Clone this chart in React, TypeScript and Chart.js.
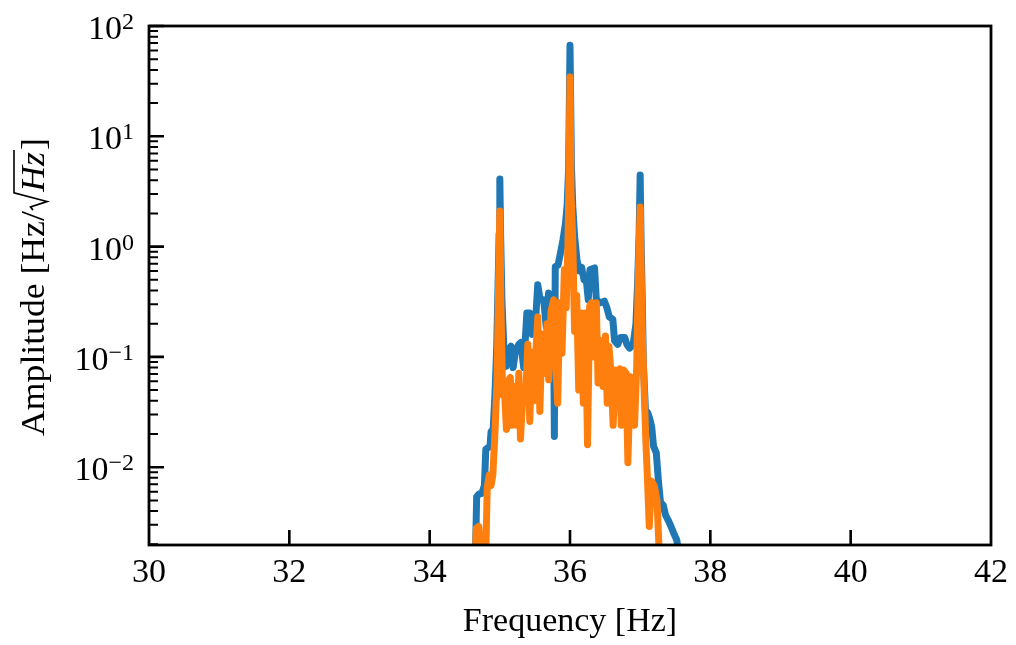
import { useEffect, useRef } from 'react';
import { Chart, registerables } from 'chart.js';

Chart.register(...registerables);

const SERIF = '"Liberation Serif", "Times New Roman", Times, serif';

// Blue series (vertices)
const blueFreq = [
  34.55, 34.62, 34.655, 34.67, 34.70, 34.745, 34.78, 34.80, 34.83, 34.86,
  34.875, 34.905, 34.93, 34.955, 34.975, 34.99, 35.00, 35.012, 35.03, 35.055,
  35.09, 35.125, 35.16, 35.19, 35.22, 35.27, 35.30, 35.34, 35.385, 35.425,
  35.46, 35.505, 35.54, 35.575, 35.625, 35.66, 35.695, 35.73, 35.765, 35.777,
  35.79, 35.83, 35.865, 35.90, 35.935, 35.96, 35.98, 36.00, 36.02, 36.04,
  36.065, 36.10, 36.135, 36.165, 36.20, 36.235, 36.26, 36.285, 36.35, 36.375,
  36.43, 36.49, 36.525, 36.56, 36.61, 36.635, 36.68, 36.72, 36.78, 36.81,
  36.85, 36.90, 36.94, 36.965, 36.985, 37.00, 37.012, 37.03, 37.045, 37.075,
  37.11, 37.14, 37.165, 37.19, 37.23, 37.26, 37.29, 37.33, 37.36, 37.40,
  37.44, 37.48, 37.52, 37.55, 37.62,
];
const blueAmp = [
  0.0010, 0.0015, 0.0019, 0.0054, 0.0057, 0.0058, 0.0068, 0.0145, 0.0150, 0.0155,
  0.021, 0.022, 0.045, 0.12, 0.45, 1.3, 4.1, 1.2, 0.33, 0.13,
  0.082, 0.115, 0.125, 0.08, 0.11, 0.13, 0.135, 0.08, 0.25, 0.25,
  0.16, 0.19, 0.45, 0.33, 0.33, 0.19, 0.38, 0.32, 0.30, 0.019,
  0.66, 0.68, 0.88, 1.15, 1.6, 2.4, 5.0, 67, 5.5, 2.3,
  1.25, 0.75, 0.60, 0.65, 0.50, 0.48, 0.33, 0.62, 0.64, 0.33,
  0.31, 0.32, 0.28, 0.23, 0.22, 0.14, 0.13, 0.15, 0.15, 0.13,
  0.12, 0.13, 0.20, 0.5, 1.3, 4.45, 1.2, 0.33, 0.09, 0.033,
  0.031, 0.027, 0.023, 0.0155, 0.0135, 0.0075, 0.0048, 0.0045, 0.0037, 0.0033,
  0.0029, 0.0025, 0.0022, 0.0017, 0.0010,
];

// Orange series (vertices)
const orangeFreq = [
  34.60, 34.65, 34.665, 34.70, 34.73, 34.80, 34.82, 34.85, 34.875, 34.90,
  34.93, 34.96, 34.98, 35.00, 35.015, 35.04, 35.06, 35.094, 35.128, 35.15,
  35.175, 35.208, 35.237, 35.271, 35.294, 35.332, 35.365, 35.399, 35.427, 35.46,
  35.484, 35.507, 35.541, 35.57, 35.602, 35.635, 35.673, 35.697, 35.73, 35.768,
  35.805, 35.825, 35.854, 35.886, 35.92, 35.945, 35.97, 35.985, 36.00, 36.015,
  36.04, 36.065, 36.095, 36.125, 36.16, 36.19, 36.22, 36.25, 36.28, 36.31,
  36.345, 36.375, 36.40, 36.44, 36.47, 36.505, 36.53, 36.555, 36.585, 36.615,
  36.645, 36.68, 36.71, 36.73, 36.765, 36.80, 36.825, 36.86, 36.895, 36.92,
  36.95, 36.975, 37.00, 37.012, 37.03, 37.055, 37.08, 37.10, 37.13, 37.16,
  37.20, 37.24, 37.27, 37.33,
];
const orangeAmp = [
  0.0010, 0.0014, 0.0028, 0.0029, 0.0016, 0.0016, 0.0065, 0.0085, 0.0068, 0.0085,
  0.02, 0.06, 0.35, 2.1, 0.3, 0.045, 0.06, 0.022, 0.062, 0.065,
  0.024, 0.054, 0.024, 0.071, 0.018, 0.05, 0.04, 0.13, 0.026, 0.11,
  0.04, 0.09, 0.23, 0.032, 0.16, 0.071, 0.2, 0.062, 0.26, 0.33,
  0.071, 0.038, 0.31, 0.108, 0.62, 0.28, 1.0, 4.0, 34.5, 3.0,
  1.1, 0.17, 0.36, 0.05, 0.25, 0.038, 0.25, 0.016, 0.29, 0.31,
  0.10, 0.31, 0.058, 0.14, 0.054, 0.155, 0.038, 0.124, 0.071, 0.024,
  0.076, 0.071, 0.078, 0.024, 0.076, 0.071, 0.011, 0.066, 0.062, 0.024,
  0.08, 0.6, 2.28, 0.75, 0.17, 0.055, 0.018, 0.009, 0.0029, 0.0075,
  0.0068, 0.005, 0.0018, 0.0010,
];

const xTickValues = [30, 32, 34, 36, 38, 40, 42];
const xMin = 30;
const xMax = 42;
const yDecades = [-2, -1, 0, 1, 2];
const yMinorDecades = [-3, -2, -1, 0, 1];
const yMin = 0.00197;
const yMax = 100;
const xTitle = 'Frequency [Hz]';
const yTitleMain = 'Amplitude [Hz/';
const yTitleRoot = 'Hz';
const yTitleEnd = ']';

const BLUE = '#1f77b4';
const ORANGE = '#ff7f0e';

const framePlugin = {
  id: 'mplFrame',
  afterDraw(chart: any) {
    const { ctx, chartArea: a, scales } = chart;
    const xs = scales.x;
    const ys = scales.y;
    ctx.save();
    ctx.strokeStyle = '#000';
    ctx.fillStyle = '#000';
    ctx.lineCap = 'butt';

    // x major ticks (inward)
    ctx.lineWidth = 2.6;
    ctx.beginPath();
    for (const v of xTickValues) {
      const px = xs.getPixelForValue(v);
      if (px <= a.left + 1 || px >= a.right - 1) continue;
      ctx.moveTo(px, a.bottom);
      ctx.lineTo(px, a.bottom - 15);
    }
    ctx.stroke();

    // y minor ticks
    ctx.lineWidth = 2;
    ctx.beginPath();
    for (const k of yMinorDecades) {
      for (let m = 2; m <= 9; m++) {
        const v = m * Math.pow(10, k);
        if (v < yMin || v > yMax) continue;
        const py = ys.getPixelForValue(v);
        ctx.moveTo(a.left, py);
        ctx.lineTo(a.left + 9, py);
      }
    }
    ctx.stroke();

    // y major ticks
    ctx.lineWidth = 2.6;
    ctx.beginPath();
    for (const k of yDecades) {
      const py = ys.getPixelForValue(Math.pow(10, k));
      ctx.moveTo(a.left, py);
      ctx.lineTo(a.left + 15, py);
    }
    ctx.stroke();

    // frame
    ctx.lineWidth = 2.8;
    ctx.strokeRect(a.left, a.top, a.right - a.left, a.bottom - a.top);

    // y tick labels 10^k
    ctx.textAlign = 'left';
    ctx.textBaseline = 'alphabetic';
    for (const k of yDecades) {
      const py = ys.getPixelForValue(Math.pow(10, k));
      const exp = k < 0 ? '\u2212' + Math.abs(k) : String(k);
      ctx.font = `24px ${SERIF}`;
      const ew = ctx.measureText(exp).width;
      ctx.font = `34px ${SERIF}`;
      const bw = ctx.measureText('10').width;
      const right = a.left - 15;
      const base = py + 13;
      ctx.fillText('10', right - ew - bw, base);
      ctx.font = `24px ${SERIF}`;
      ctx.fillText(exp, right - ew, base - 10);
    }

    // y title with sqrt
    const cy = (a.top + a.bottom) / 2 + 1.5;
    ctx.translate(44, cy);
    ctx.rotate(-Math.PI / 2);
    ctx.scale(1.08, 1);
    ctx.font = `33px ${SERIF}`;
    const w1 = ctx.measureText(yTitleMain).width;
    const w3 = ctx.measureText(yTitleEnd).width;
    ctx.font = `italic 33px ${SERIF}`;
    const w2 = ctx.measureText(yTitleRoot).width;
    const rw = 17;
    const total = w1 + rw + w2 + 3 + w3;
    let u = -total / 2;
    ctx.font = `33px ${SERIF}`;
    ctx.fillText(yTitleMain, u, 0);
    u += w1;
    ctx.lineWidth = 1.6;
    ctx.lineJoin = 'miter';
    ctx.beginPath();
    ctx.moveTo(u + 1, -11);
    ctx.lineTo(u + 4, -13.5);
    ctx.lineTo(u + 9, 3);
    ctx.lineTo(u + rw, -30);
    ctx.lineTo(u + rw + w2 + 3, -30);
    ctx.stroke();
    u += rw;
    ctx.font = `italic 33px ${SERIF}`;
    ctx.fillText(yTitleRoot, u + 1, 0);
    u += w2 + 3;
    ctx.font = `33px ${SERIF}`;
    ctx.fillText(yTitleEnd, u, 0);
    ctx.restore();
  },
};

export default function App() {
  const ref = useRef<HTMLCanvasElement | null>(null);

  useEffect(() => {
    const canvas = ref.current;
    if (!canvas) return;
    const toPoints = (fs: number[], vs: number[]) => fs.map((f, i) => ({ x: f, y: vs[i] }));
    const chart = new Chart(canvas, {
      type: 'line',
      data: {
        datasets: [
          {
            label: 'blue',
            data: toPoints(blueFreq, blueAmp),
            borderColor: BLUE,
            backgroundColor: BLUE,
            borderWidth: 7,
            pointRadius: 0,
            tension: 0,
            borderJoinStyle: 'round',
            borderCapStyle: 'round',
            clip: 0,
            fill: false,
            order: 2,
          },
          {
            label: 'orange',
            data: toPoints(orangeFreq, orangeAmp),
            borderColor: ORANGE,
            backgroundColor: ORANGE,
            borderWidth: 7,
            pointRadius: 0,
            tension: 0,
            borderJoinStyle: 'round',
            borderCapStyle: 'round',
            clip: 0,
            fill: false,
            order: 1,
          },
        ],
      } as any,
      options: {
        animation: false,
        responsive: false,
        devicePixelRatio: 1,
        layout: { padding: { left: 0, right: 23, top: 26, bottom: 0 } },
        plugins: { legend: { display: false }, tooltip: { enabled: false } },
        scales: {
          x: {
            type: 'linear',
            min: xMin,
            max: xMax,
            grid: { display: false, drawTicks: false, tickLength: 0 },
            border: { display: false },
            afterBuildTicks: (scale: any) => {
              scale.ticks = xTickValues.map((v) => ({ value: v }));
            },
            afterFit: (scale: any) => {
              scale.height = 100;
            },
            ticks: {
              autoSkip: false,
              maxRotation: 0,
              padding: 8,
              color: '#000',
              font: { family: SERIF, size: 34 },
              callback: (v: any) => String(v),
            },
            title: {
              display: true,
              text: xTitle,
              color: '#000',
              font: { family: SERIF, size: 34 },
              padding: { top: 0, bottom: 3 },
            },
          },
          y: {
            type: 'logarithmic',
            min: yMin,
            max: yMax,
            grid: { display: false, drawTicks: false, tickLength: 0 },
            border: { display: false },
            ticks: { display: false },
            afterFit: (scale: any) => {
              scale.width = 149;
            },
          },
        },
      } as any,
      plugins: [framePlugin],
    });
    return () => chart.destroy();
  }, []);

  return (
    <div style={{ position: 'fixed', left: 0, top: 0, width: 1016, height: 645, background: '#fff' }}>
      <canvas ref={ref} width={1016} height={645} style={{ display: 'block', width: 1016, height: 645 }} />
    </div>
  );
}
